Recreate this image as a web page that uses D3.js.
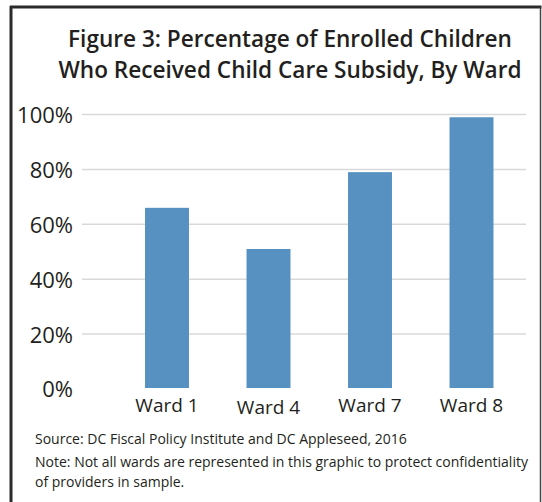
<!DOCTYPE html>
<html>
<head>
<meta charset="utf-8">
<script src="https://cdn.jsdelivr.net/npm/d3@7"></script>
<style>
  body { margin: 0; background: #fff; }
  text { font-family: "Open Sans", "Noto Sans", sans-serif; fill: #231f20; }
</style>
</head>
<body>
<div class="chart"></div>
<script>
// chart data
const wards = ["Ward 1", "Ward 4", "Ward 7", "Ward 8"];
const shares = [66, 51, 79, 99];
const yTicks = [0, 20, 40, 60, 80, 100];
const titleLines = [
  "Figure 3: Percentage of Enrolled Children",
  "Who Received Child Care Subsidy, By Ward"
];
const notes = [
  "Source: DC Fiscal Policy Institute and DC Appleseed, 2016",
  "Note: Not all wards are represented in this graphic to protect confidentiality",
  "of providers in sample."
];

const WIDTH = 542;
const HEIGHT = 502;

const svg = d3
  .select(".chart")
  .append("svg")
  .attr("width", WIDTH)
  .attr("height", HEIGHT);

// frame round the figure
svg.append("line")
  .attr("x1", 11).attr("x2", 11).attr("y1", 6).attr("y2", HEIGHT)
  .attr("stroke", "#2b2b2b").attr("stroke-width", 3);
svg.append("line")
  .attr("x1", 10).attr("x2", 541.5).attr("y1", 7).attr("y2", 7)
  .attr("stroke", "#2b2b2b").attr("stroke-width", 3);
svg.append("line")
  .attr("x1", 540.5).attr("x2", 540.5).attr("y1", 7).attr("y2", HEIGHT)
  .attr("stroke", "#444").attr("stroke-width", 1.5);

// title
svg.append("g")
  .selectAll("text")
  .data(titleLines)
  .enter()
  .append("text")
  .attr("x", 290)
  .attr("y", (d, i) => 47 + i * 31)
  .attr("text-anchor", "middle")
  .style("font-size", "22.6px")
  .style("font-weight", "600")
  .text((d) => d);

// scales
const x = d3
  .scaleBand()
  .domain(wards)
  .range([116.25, 522.25])
  .paddingInner(0.567)
  .paddingOuter(0.2835);

const y = d3.scaleLinear().domain([0, 100]).range([389, 114.5]);

// gridlines
svg.append("g")
  .selectAll("line")
  .data(yTicks.filter((d) => d > 0))
  .enter()
  .append("line")
  .attr("x1", 82)
  .attr("x2", 526)
  .attr("y1", (d) => y(d))
  .attr("y2", (d) => y(d))
  .attr("stroke", "#d9d9d9")
  .attr("stroke-width", 1.5);

// y axis labels
const yAxis = svg.append("g")
  .attr("transform", "translate(82,0)")
  .call(d3.axisLeft(y).tickValues(yTicks).tickFormat((d) => d + "%").tickSize(0).tickPadding(9));
yAxis.select(".domain").remove();
yAxis.selectAll("text")
  .style("font-family", "'Open Sans', sans-serif")
  .style("font-size", "22px")
  .attr("fill", "#231f20")
  .attr("dy", "0.36em");

// bars
svg.append("g")
  .selectAll("rect")
  .data(shares)
  .enter()
  .append("rect")
  .attr("x", (d, i) => x(wards[i]))
  .attr("width", x.bandwidth())
  .attr("y", (d) => y(d))
  .attr("height", (d) => y(0) - 1 - y(d))
  .attr("fill", "#5691c1");

// x axis labels
const xAxis = svg.append("g")
  .attr("transform", "translate(0,389)")
  .call(d3.axisBottom(x).tickSize(0).tickPadding(10));
xAxis.select(".domain").remove();
xAxis.selectAll("text")
  .style("font-family", "'Open Sans', sans-serif")
  .style("font-size", "19px")
  .attr("fill", "#231f20")
  .attr("dy", (d) => (d === "Ward 4" ? "0.81em" : "0.71em"));

// source and note
svg.append("g")
  .selectAll("text")
  .data(notes)
  .enter()
  .append("text")
  .attr("x", 35)
  .attr("y", (d, i) => [444, 467, 487][i])
  .style("font-size", "14px")
  .text((d) => d);
</script>
</body>
</html>
